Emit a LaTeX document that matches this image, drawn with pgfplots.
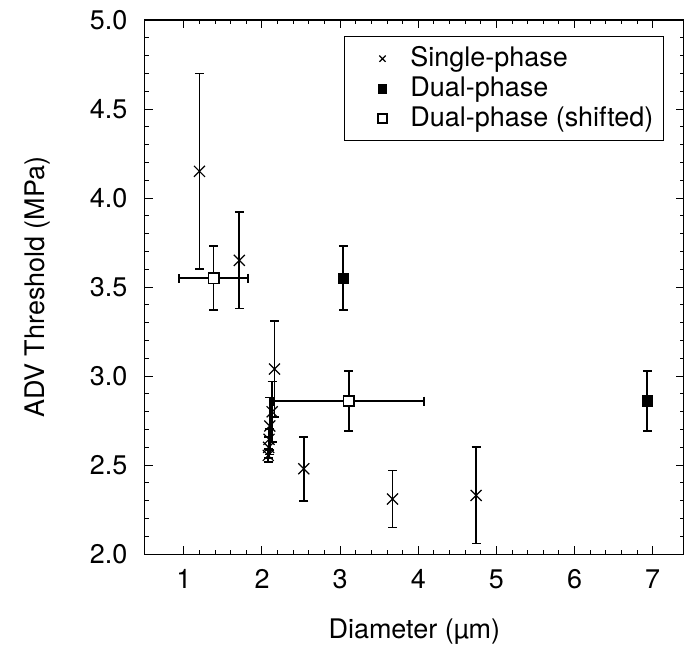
\documentclass[border=0pt]{standalone}
\usepackage{fontspec}
\setmainfont{TeX Gyre Heros}
\usepackage{pgfplots}
\pgfplotsset{compat=1.18}
\begin{document}
\fontsize{13.5}{16}\selectfont
\begin{tikzpicture}
\begin{axis}[
  scale only axis, width=270pt, height=267.5pt,
  xmin=0.5, xmax=7.4, ymin=2, ymax=5,
  xtick={1,2,3,4,5,6,7}, ytick={2,2.5,3,3.5,4,4.5,5},
  minor x tick num=4, minor y tick num=4,
  major tick length=4pt, minor tick length=2pt,
  tick style={black, line width=0.5pt},
  axis line style={black, line width=0.6pt},
  /pgf/number format/assume math mode=true,
  yticklabel style={xshift=-4pt, /pgf/number format/fixed, /pgf/number format/fixed zerofill, /pgf/number format/precision=1},
  xticklabel style={yshift=-3pt},
  xlabel={Diameter (µm)},
  ylabel={ADV Threshold (MPa)},
  xlabel style={at={(axis description cs:0.5,-0.144)}, anchor=center},
  ylabel style={at={(axis description cs:-0.198,0.5)}, anchor=center},
  legend style={at={(axis description cs:0.963,0.970)}, anchor=north east,
    draw=black, line width=0.6pt, cells={anchor=west}, row sep=-1pt,
    inner xsep=3pt, inner ysep=3pt},
  legend image code/.code={\path[draw=none] (-16pt,0pt) -- (12pt,0pt);
    \draw[#1, mark size=2.2pt] plot coordinates {(0pt,0pt)};},
  legend cell align=left,
]
\addplot[only marks, mark=x, mark size=3.9pt, black, line width=0.6pt,
  error bars/.cd, y dir=both, y explicit,
  error bar style={line width=0.9pt, black},
  error mark options={line width=0.9pt, black, mark size=2.25pt, rotate=90}]
  table[y error=ey] {
x y ey
1.20 4.15 0.55
1.71 3.65 0.27
2.16 3.04 0.27
2.13 2.80 0.17
2.10 2.72 0.16
2.09 2.645 0.06
2.085 2.60 0.06
2.08 2.555 0.035
2.535 2.48 0.18
3.67 2.31 0.16
4.74 2.33 0.27
};
\addlegendentry{Single-phase}
\addplot[only marks, mark=square*, mark size=2.6pt, black, line width=0.5pt,
  error bars/.cd, y dir=both, y explicit,
  error bar style={line width=0.9pt, black},
  error mark options={line width=0.9pt, black, mark size=2.25pt, rotate=90}]
  table[y error=ey] {
x y ey
3.04 3.55 0.18
6.93 2.86 0.17
};
\addlegendentry{Dual-phase}
\addplot[only marks, mark=square*, mark size=2.6pt, black,
  mark options={fill=white, line width=0.8pt},
  error bars/.cd, y dir=both, y explicit, x dir=both, x explicit,
  error bar style={line width=0.9pt, black},
  error mark options={line width=0.9pt, black, mark size=2.25pt, rotate=90}]
  table[x error=ex, y error=ey] {
x y ex ey
1.38 3.55 0.44 0.18
3.11 2.86 0.96 0.17
};
\addlegendentry{Dual-phase (shifted)}
\coordinate (bbbl) at (axis description cs:-0.2685,-0.1776);
\coordinate (bbtr) at (axis description cs:1.0,1.0374);
\end{axis}
\pgfresetboundingbox
\path[use as bounding box] (bbbl) rectangle (bbtr);
\end{tikzpicture}
\end{document}
